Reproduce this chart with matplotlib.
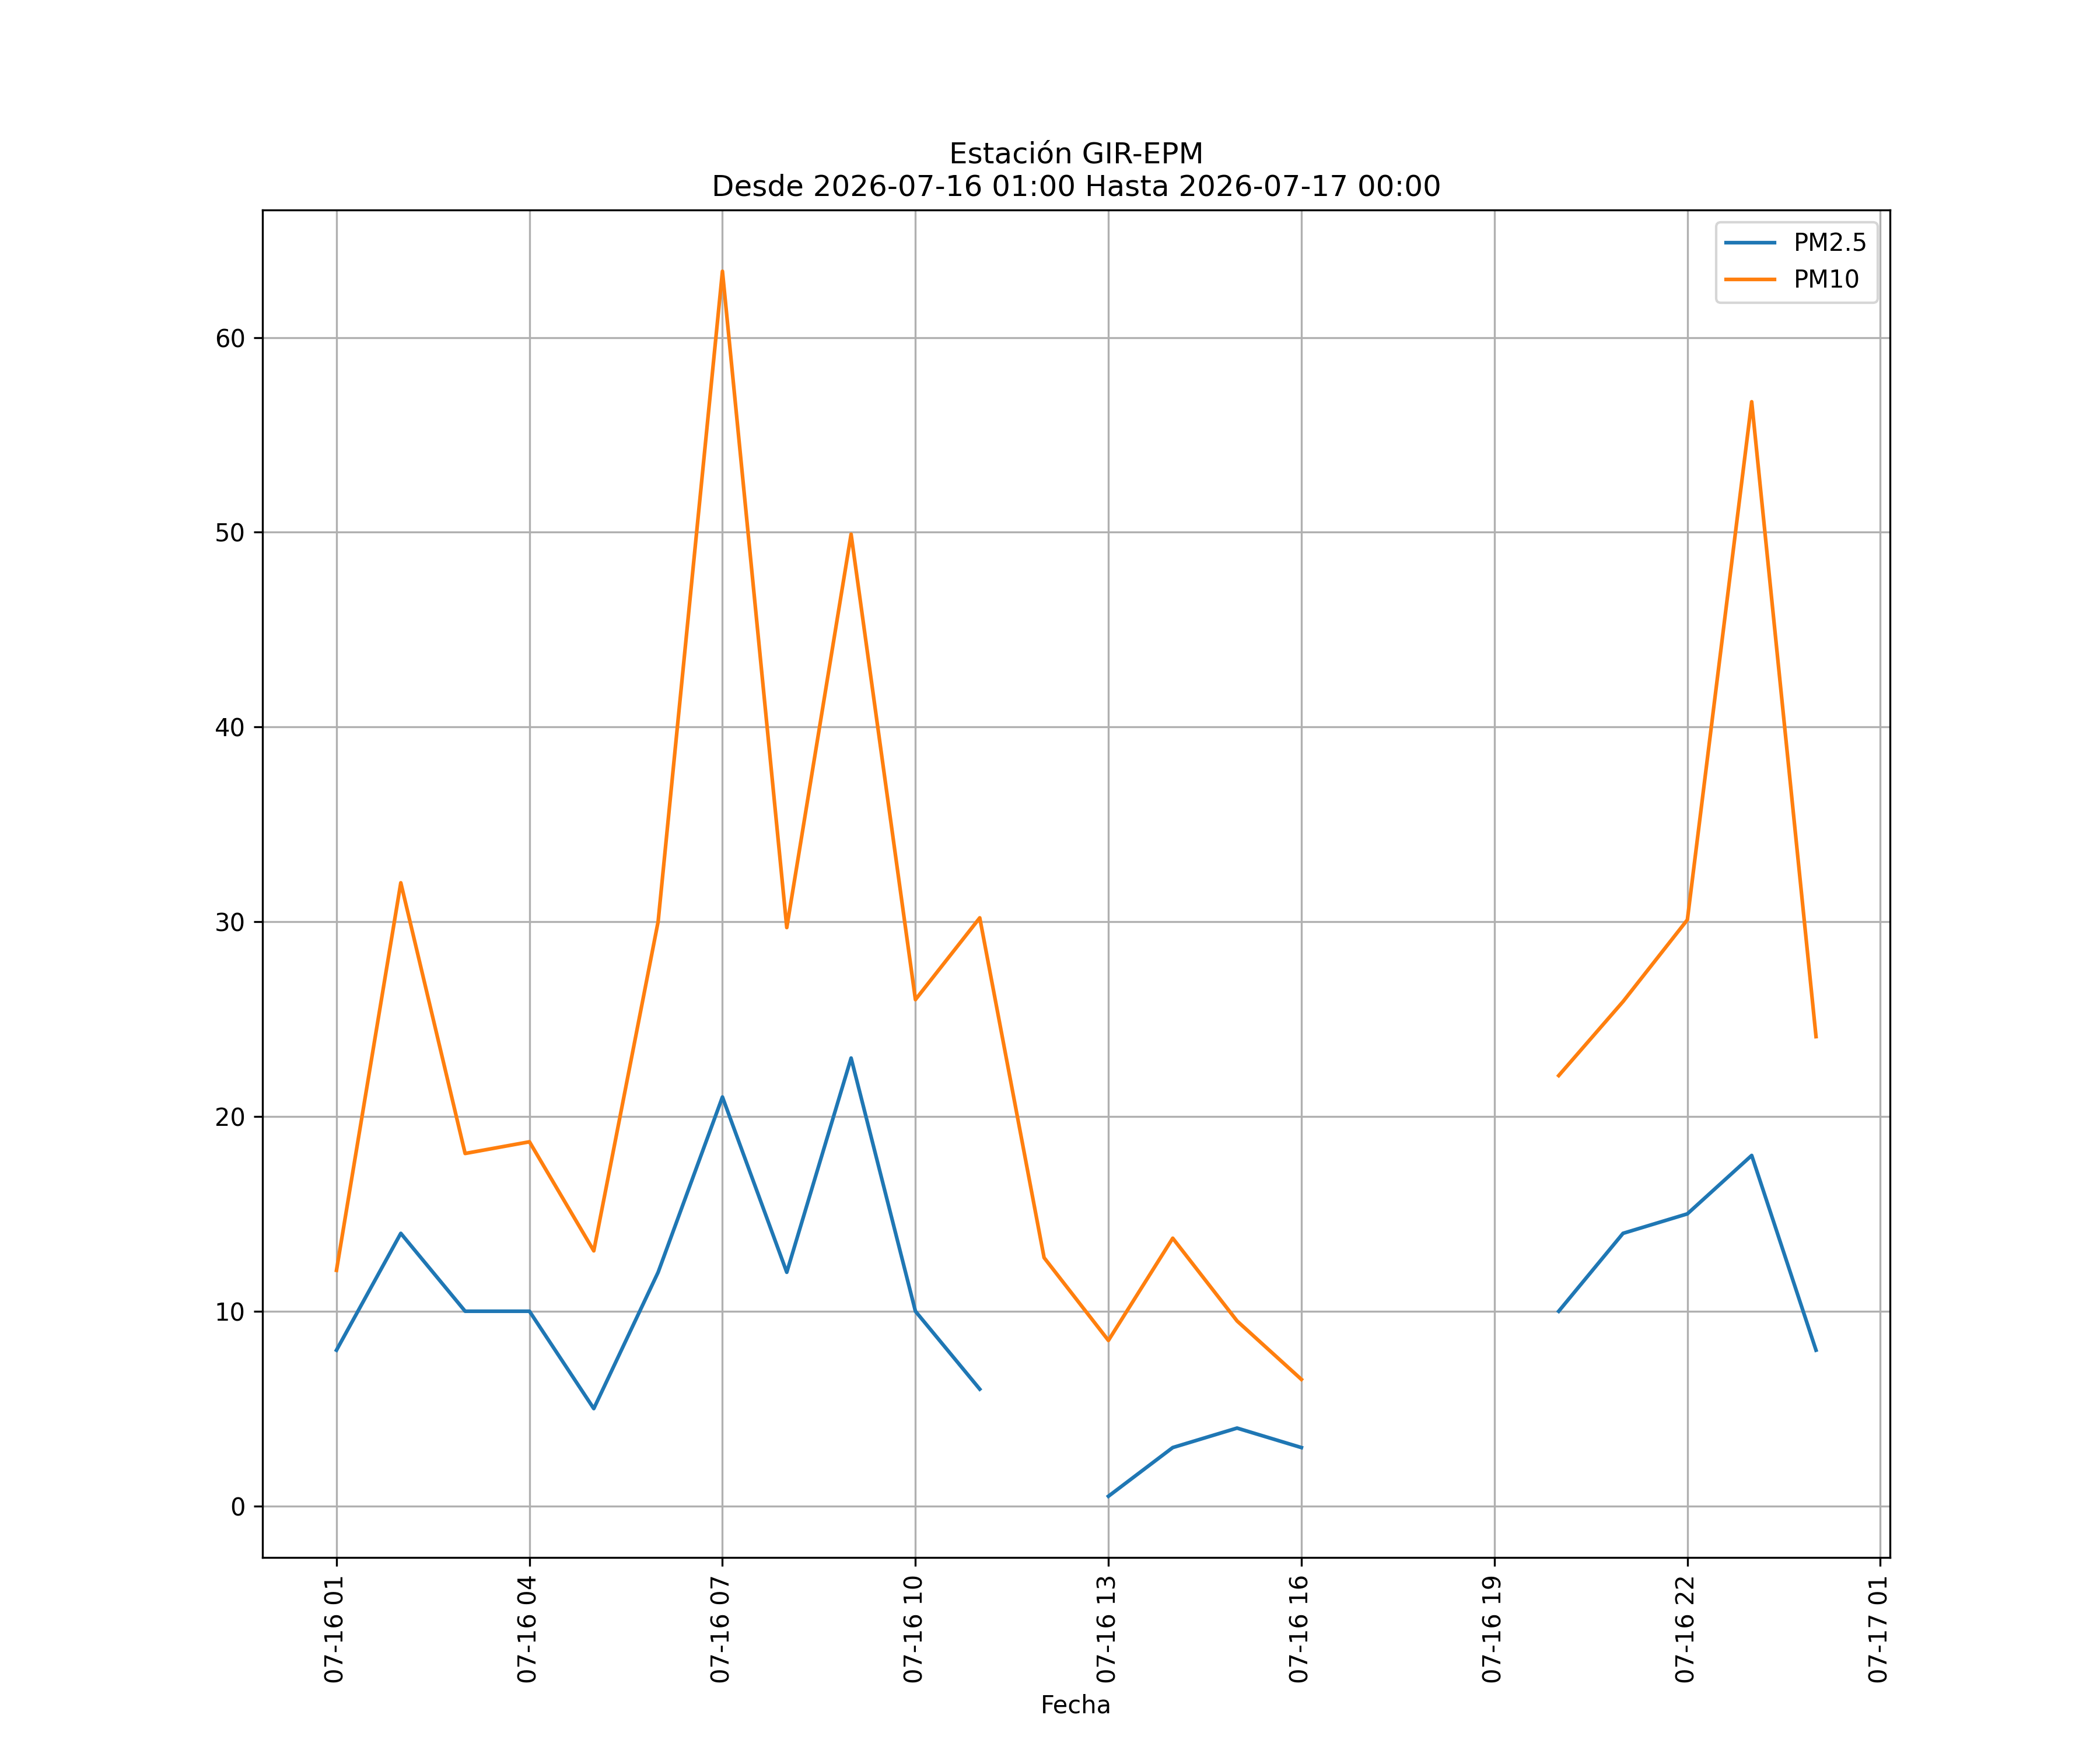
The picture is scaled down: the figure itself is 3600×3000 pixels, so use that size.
import numpy as np
import pandas as pd
import matplotlib
matplotlib.use('Agg')
import matplotlib.pyplot as plt
import matplotlib.dates as mdates

# hourly data, station GIR-EPM (NaN = missing hour)
horas = pd.date_range('2026-07-16 01:00', '2026-07-17 00:00', freq='h')
pm25 = [8, 14, 10, 10, 5, 12, 21, 12, 23, 10, 6, np.nan,
        0.5, 3, 4, 3, np.nan, np.nan, np.nan, 10, 14, 15, 18, 8]
pm10 = [12.1, 32.0, 18.1, 18.7, 13.1, 30.0, 63.4, 29.7, 49.9, 26.0, 30.2, 12.75,
        8.5, 13.75, 9.5, 6.5, np.nan, np.nan, np.nan, 22.1, 25.9, 30.1, 56.7, 24.1]

df = pd.DataFrame({'PM2.5': pm25, 'PM10': pm10}, index=horas)

fig, ax = plt.subplots(figsize=(12, 10))
ax.plot(df.index, df['PM2.5'], label='PM2.5')
ax.plot(df.index, df['PM10'], label='PM10')

ax.set_title('Estación GIR-EPM\nDesde 2026-07-16 01:00 Hasta 2026-07-17 00:00', fontsize=12)
ax.set_xlabel('Fecha')
ax.xaxis.set_major_locator(mdates.HourLocator(byhour=range(1, 24, 3)))
ax.xaxis.set_major_formatter(mdates.DateFormatter('%m-%d %H'))
plt.setp(ax.get_xticklabels(), rotation=90)
ax.grid(True)
ax.legend(loc='upper right')

plt.savefig('out.png', dpi=300)
